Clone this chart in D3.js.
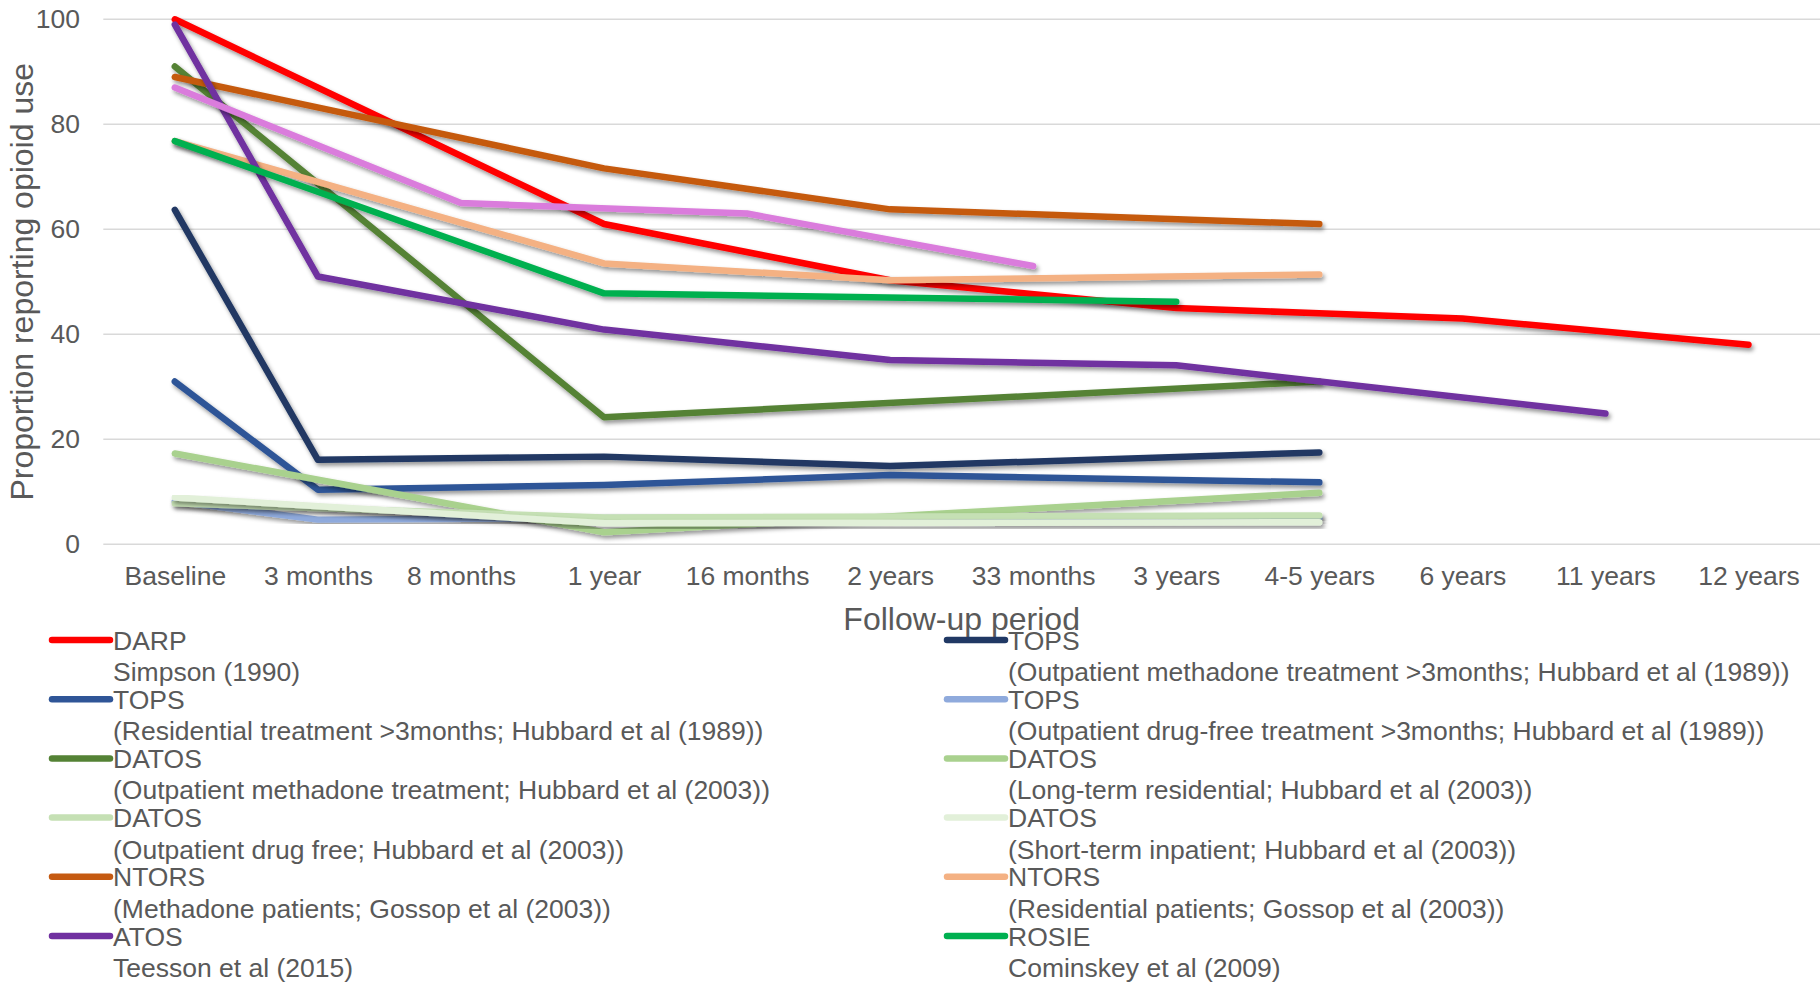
<!DOCTYPE html>
<html>
<head>
<meta charset="utf-8">
<script src="https://cdn.jsdelivr.net/npm/d3@7"></script>
<style>
  html, body { margin: 0; padding: 0; background: #ffffff; }
  svg { display: block; }
  text { font-family: "Liberation Sans", Arial, sans-serif; fill: #595959; }
</style>
</head>
<body>
<svg id="chart" width="1820" height="982"></svg>
<script>
// ---- Data ----
const categories = ["Baseline", "3 months", "8 months", "1 year", "16 months", "2 years",
                    "33 months", "3 years", "4-5 years", "6 years", "11 years", "12 years"];
const yTicks = [0, 20, 40, 60, 80, 100];

const darp      = [100, null, null, 61, null, 50.3, null, 45, 44, 43, null, 38];
const topsOMT   = [63.7, 16.1, null, 16.7, null, 14.9, null, null, 17.5, null, null, null];
const topsRes   = [31, 10.4, null, 11.3, null, 13.2, null, null, 11.8, null, null, null];
const topsODF   = [8.2, 4.7, null, 5.0, null, 5.0, null, null, 5.0, null, null, null];
const datosOMT  = [91, null, null, 24.2, null, null, null, null, 31, null, null, null];
const datosLTR  = [17.3, null, null, 2.3, null, null, null, null, 9.8, null, null, null];
const datosODF  = [7.8, null, null, 5.1, null, null, null, null, 5.5, null, null, null];
const datosSTI  = [8.9, null, null, 4.0, null, null, null, null, 4.2, null, null, null];
const ntorsM    = [89, null, null, 71.6, null, 63.8, null, null, 61, null, null, null];
const ntorsR    = [76.8, null, null, 53.5, null, 50.3, null, null, 51.4, null, null, null];
const atos      = [99, 51, null, 40.9, null, 35.1, null, 34.1, null, null, 24.9, null];
const rosie     = [76.8, null, null, 47.8, null, null, null, 46.2, null, null, null, null];
const extra     = [87, null, 65, null, 63, null, 53, null, null, null, null, null];

const seriesNames = [
  ["DARP", "Simpson (1990)"],
  ["TOPS", "(Outpatient methadone treatment >3months; Hubbard et al (1989))"],
  ["TOPS", "(Residential treatment >3months; Hubbard et al (1989))"],
  ["TOPS", "(Outpatient drug-free treatment >3months; Hubbard et al (1989))"],
  ["DATOS", "(Outpatient methadone treatment; Hubbard et al (2003))"],
  ["DATOS", "(Long-term residential; Hubbard et al (2003))"],
  ["DATOS", "(Outpatient drug free; Hubbard et al (2003))"],
  ["DATOS", "(Short-term inpatient; Hubbard et al (2003))"],
  ["NTORS", "(Methadone patients; Gossop et al (2003))"],
  ["NTORS", "(Residential patients; Gossop et al (2003))"],
  ["ATOS", "Teesson et al (2015)"],
  ["ROSIE", "Cominskey et al (2009)"]
];
const seriesColors = ["#FF0000", "#203864", "#2F5597", "#8FAADC", "#548235", "#A9D18E",
                      "#C5E0B4", "#E2F0D9", "#C55A11", "#F4B183", "#7030A0", "#00B050", "#DA7CDC"];
const seriesValues = [darp, topsOMT, topsRes, topsODF, datosOMT, datosLTR, datosODF, datosSTI,
                      ntorsM, ntorsR, atos, rosie, extra];

// ---- Layout ----
const svg = d3.select("#chart");
const plot = { left: 103.3, right: 1820, top: 19.3, bottom: 544.3 };

const x = d3.scalePoint().domain(categories).range([plot.left, plot.right]).padding(0.5);
const y = d3.scaleLinear().domain([0, 100]).range([plot.bottom, plot.top]);

const defs = svg.append("defs");
const f = defs.append("filter").attr("id", "shadow")
  .attr("x", "-10%").attr("y", "-10%").attr("width", "120%").attr("height", "130%");
f.append("feDropShadow").attr("dx", 2).attr("dy", 3).attr("stdDeviation", 2.2)
  .attr("flood-color", "#000").attr("flood-opacity", 0.42);

// gridlines
svg.append("g").selectAll("line").data(yTicks).join("line")
  .attr("x1", plot.left).attr("x2", plot.right)
  .attr("y1", d => y(d)).attr("y2", d => y(d))
  .attr("stroke", "#D9D9D9").attr("stroke-width", 1.5);

// y axis labels
const yAxis = d3.axisLeft(y).tickValues(yTicks).tickSize(0).tickPadding(0);
const gy = svg.append("g").attr("transform", `translate(80,0)`).call(yAxis);
gy.select(".domain").remove();
gy.selectAll("text").attr("font-size", 26.5).attr("fill", "#595959")
  .attr("font-family", "'Liberation Sans', Arial, sans-serif");

// x axis labels
const xAxis = d3.axisBottom(x).tickSize(0).tickPadding(0);
const gx = svg.append("g").attr("transform", `translate(0,566)`).call(xAxis);
gx.select(".domain").remove();
gx.selectAll("text").attr("font-size", 26.5).attr("fill", "#595959").attr("dy", "0.71em")
  .attr("font-family", "'Liberation Sans', Arial, sans-serif");

// axis titles
svg.append("text").attr("x", (plot.left + plot.right) / 2).attr("y", 630)
  .attr("text-anchor", "middle").attr("font-size", 32).text("Follow-up period");
svg.append("text")
  .attr("transform", `translate(33,${(plot.top + plot.bottom) / 2}) rotate(-90)`)
  .attr("text-anchor", "middle").attr("font-size", 32).text("Proportion reporting opioid use");

// lines
const line = d3.line().x(d => x(d.c)).y(d => y(d.v)).curve(d3.curveLinear);
const gLines = svg.append("g");
seriesValues.forEach((vals, i) => {
  const pts = vals.map((v, j) => ({ c: categories[j], v })).filter(d => d.v !== null);
  gLines.append("path").datum(pts)
    .attr("d", line)
    .attr("fill", "none")
    .attr("stroke", seriesColors[i])
    .attr("stroke-width", 6.5)
    .attr("stroke-linecap", "round")
    .attr("stroke-linejoin", "round")
    .attr("filter", "url(#shadow)");
});

// legend (two columns, row-major)
const legend = svg.append("g");
seriesNames.forEach((nm, i) => {
  const col = i % 2, row = Math.floor(i / 2);
  const lx = col === 0 ? 52 : 947;
  const cy = 640 + row * 59.2;
  const g = legend.append("g");
  g.append("line").attr("x1", lx).attr("x2", lx + 58).attr("y1", cy).attr("y2", cy)
    .attr("stroke", seriesColors[i]).attr("stroke-width", 6.5).attr("stroke-linecap", "round");
  g.append("text").attr("x", lx + 61).attr("y", cy + 9.5).attr("font-size", 26.5).text(nm[0]);
  g.append("text").attr("x", lx + 61).attr("y", cy + 41).attr("font-size", 26.5).text(nm[1]);
});
</script>
</body>
</html>
